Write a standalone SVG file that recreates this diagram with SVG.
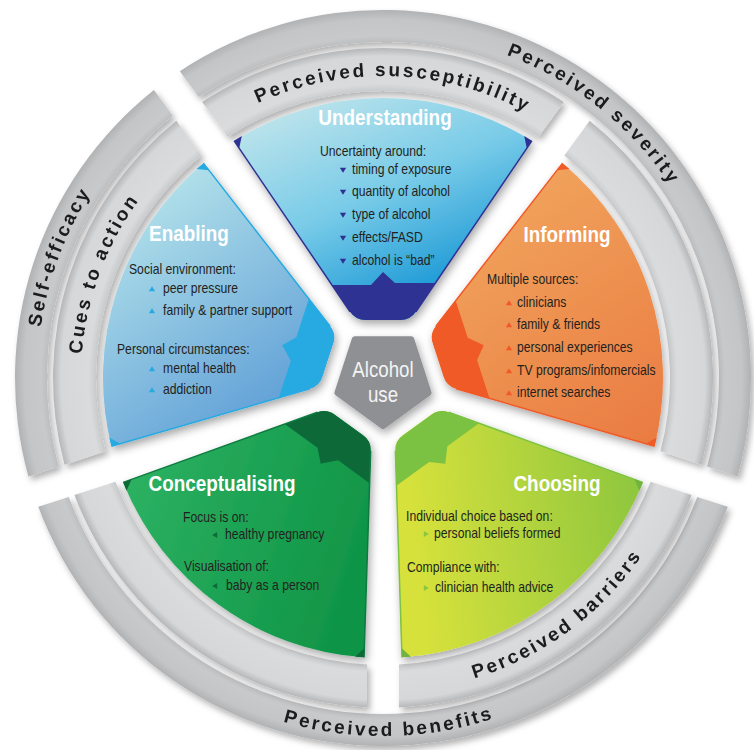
<svg xmlns="http://www.w3.org/2000/svg" width="754" height="750" viewBox="0 0 754 750">
<defs>
<style>
.t{font-family:"Liberation Sans",Arial,sans-serif;font-weight:bold;font-size:22px;fill:#ffffff;text-anchor:middle}
.b{font-family:"Liberation Sans",Arial,sans-serif;font-size:14.5px;fill:#231f20}
.band{font-family:"Liberation Sans",Arial,sans-serif;font-weight:bold;font-size:19px;fill:#1a1a1a;letter-spacing:2.6px}
.c{font-family:"Liberation Sans",Arial,sans-serif;font-size:22px;fill:#f4f4f4;text-anchor:middle}
.edge{fill:none;stroke-width:1.5}
</style>
<filter id="sh" x="-20%" y="-20%" width="140%" height="140%"><feDropShadow dx="2" dy="4" stdDeviation="4" flood-color="#000" flood-opacity="0.35"/></filter>
<filter id="shb" x="-10%" y="-10%" width="120%" height="120%"><feDropShadow dx="3" dy="4" stdDeviation="3" flood-color="#000" flood-opacity="0.3"/></filter>
<radialGradient id="gband" gradientUnits="userSpaceOnUse" cx="0" cy="0" r="368">
<stop offset="0.78" stop-color="#c9cacc"/>
<stop offset="0.80" stop-color="#dadbdd"/>
<stop offset="0.875" stop-color="#d6d7d9"/>
<stop offset="0.897" stop-color="#b5b6b8"/>
<stop offset="0.913" stop-color="#bdbec0"/>
<stop offset="0.93" stop-color="#c8c9cb"/>
<stop offset="0.975" stop-color="#c4c5c7"/>
<stop offset="1" stop-color="#b1b2b4"/>
</radialGradient>
<linearGradient id="gU" gradientUnits="userSpaceOnUse" x1="-60" y1="-280" x2="30" y2="-80"><stop offset="0" stop-color="#b8e2eb"/><stop offset="0.5" stop-color="#78cbe8"/><stop offset="1" stop-color="#1e9ad6"/></linearGradient>
<linearGradient id="gI" gradientUnits="userSpaceOnUse" gradientTransform="rotate(-72)" x1="100" y1="-200" x2="280" y2="60"><stop offset="0" stop-color="#f1a65e"/><stop offset="1" stop-color="#ea7b42"/></linearGradient>
<linearGradient id="gC" gradientUnits="userSpaceOnUse" gradientTransform="rotate(-144)" x1="30" y1="150" x2="270" y2="120"><stop offset="0" stop-color="#d6e13b"/><stop offset="1" stop-color="#8ac53f"/></linearGradient>
<linearGradient id="gK" gradientUnits="userSpaceOnUse" gradientTransform="rotate(-216)" x1="-270" y1="120" x2="-20" y2="200"><stop offset="0" stop-color="#2db262"/><stop offset="1" stop-color="#0f9446"/></linearGradient>
<linearGradient id="gE" gradientUnits="userSpaceOnUse" gradientTransform="rotate(-288)" x1="-250" y1="-180" x2="-90" y2="40"><stop offset="0" stop-color="#b3e2ea"/><stop offset="1" stop-color="#5c9cd6"/></linearGradient>
<path id="wedge" d="M-148.84,-237.17 A280,280 0 0 1 148.84,-237.17 L32.92,-66.28 Q27.31,-58 17.31,-58 L-17.31,-58 Q-27.31,-58 -32.92,-66.28 Z"/>
<clipPath id="wclip"><path d="M-148.84,-237.17 A280,280 0 0 1 148.84,-237.17 L32.92,-66.28 Q27.31,-58 17.31,-58 L-17.31,-58 Q-27.31,-58 -32.92,-66.28 Z"/></clipPath>
<path id="acc" d="M-80,-93 L-12,-93 L0,-106 L12,-95 L80,-95 L80,-40 L-80,-40 Z"/>
<path id="edges" d="M-148.84,-237.17 L-32.92,-66.28 M32.92,-66.28 L148.84,-237.17"/>
<path id="corners" d="M148.84,-237.17 L141.22,-241.95 L143.79,-229.72 Z M-148.84,-237.17 L-141.22,-241.95 L-143.79,-229.72 Z"/>
<path id="ring-in" d="M-180.81,-276.06 A330,330 0 0 1 180.81,-276.06 L155.49,-241.23 A287,287 0 0 0 -155.49,-241.23 Z"/>
<path id="ring-out2" d="M-203.16,-306.84 A368,368 0 0 1 354.61,98.38 L324.15,88.49 A336,336 0 0 0 -184.34,-280.93 Z"/>
<path id="ring-out1" d="M-203.16,-306.84 A368,368 0 0 1 203.16,-306.84 L184.34,-280.93 A336,336 0 0 0 -184.34,-280.93 Z"/>
<path id="p-sus" d="M126.9,217.97 A302,302 0 0 1 649.64,236.21"/>
<path id="p-sev" d="M256.74,55.84 A346,346 0 0 1 725.11,429.74"/>
<path id="p-self" d="M116.03,598.09 A346,346 0 0 1 325.91,36.74"/>
<path id="p-cues" d="M150.31,570.49 A302,302 0 0 1 332.63,80.23"/>
<path id="p-ben" d="M76.12,562.37 A358,358 0 0 0 696.11,551.56"/>
<path id="p-bar" d="M256.8,665.53 A314,314 0 0 0 695.1,343.54"/>
<path id="bd" d="M-3.2,-2.2 L3.2,-2.2 L0,2.8 Z"/>
<path id="bu" d="M-3.2,2.2 L3.2,2.2 L0,-2.8 Z"/>
<path id="br" d="M-2.2,-3 L2.8,0 L-2.2,3 Z"/>
<path id="bl" d="M2.2,-3 L-2.8,0 L2.2,3 Z"/>
</defs>
<rect width="754" height="750" fill="#ffffff"/>

<!-- outer and inner ring bands -->
<g id="band-severity" filter="url(#shb)">
<use href="#ring-out2" fill="url(#gband)" transform="translate(383 378)"/>
<text class="band"><textPath href="#p-sev" startOffset="50%" text-anchor="middle">Perceived severity</textPath></text>
</g>
<g id="band-benefits" filter="url(#shb)">
<use href="#ring-out2" fill="url(#gband)" transform="translate(383 378) rotate(144)"/>
<text class="band"><textPath href="#p-ben" startOffset="50%" text-anchor="middle">Perceived benefits</textPath></text>
</g>
<g id="band-self-efficacy" filter="url(#shb)">
<use href="#ring-out1" fill="url(#gband)" transform="translate(383 378) rotate(288)"/>
<text class="band"><textPath href="#p-self" startOffset="50%" text-anchor="middle">Self-efficacy</textPath></text>
</g>
<g id="band-susceptibility" filter="url(#shb)">
<use href="#ring-in" fill="url(#gband)" transform="translate(383 378)"/>
<text class="band"><textPath href="#p-sus" startOffset="50%" text-anchor="middle">Perceived susceptibility</textPath></text>
</g>
<g id="band-inner-right" filter="url(#shb)">
<use href="#ring-in" fill="url(#gband)" transform="translate(383 378) rotate(72)"/>
</g>
<g id="band-barriers" filter="url(#shb)">
<use href="#ring-in" fill="url(#gband)" transform="translate(383 378) rotate(144)"/>
<text class="band"><textPath href="#p-bar" startOffset="50%" text-anchor="middle">Perceived barriers</textPath></text>
</g>
<g id="band-inner-left" filter="url(#shb)">
<use href="#ring-in" fill="url(#gband)" transform="translate(383 378) rotate(216)"/>
</g>
<g id="band-cues" filter="url(#shb)">
<use href="#ring-in" fill="url(#gband)" transform="translate(383 378) rotate(288)"/>
<text class="band"><textPath href="#p-cues" startOffset="50%" text-anchor="middle">Cues to action</textPath></text>
</g>

<!-- Understanding -->
<g id="understanding">
<g filter="url(#sh)"><g transform="translate(383 378)">
<use href="#wedge" fill="url(#gU)"/>
<use href="#acc" fill="#2e3192" clip-path="url(#wclip)"/>
<use href="#edges" class="edge" stroke="#2e3192"/>
<use href="#corners" fill="#2e3192"/>
</g></g>
<text class="t" transform="matrix(0.86 0 0 1 385 125)">Understanding</text>
<text class="b" transform="matrix(0.84 0 0 1 320 156)">Uncertainty around:</text>
<g fill="#2e3192"><use href="#bd" x="343" y="170"/><use href="#bd" x="343" y="192"/><use href="#bd" x="343" y="215"/><use href="#bd" x="343" y="238"/><use href="#bd" x="343" y="261"/></g>
<text class="b" transform="matrix(0.84 0 0 1 352 174)">timing of exposure</text>
<text class="b" transform="matrix(0.84 0 0 1 352 196)">quantity of alcohol</text>
<text class="b" transform="matrix(0.84 0 0 1 352 219)">type of alcohol</text>
<text class="b" transform="matrix(0.84 0 0 1 352 242)">effects/FASD</text>
<text class="b" transform="matrix(0.84 0 0 1 352 265)">alcohol is “bad”</text>
</g>

<!-- Informing -->
<g id="informing">
<g filter="url(#sh)"><g transform="translate(383 378) rotate(72)">
<use href="#wedge" fill="url(#gI)"/>
<use href="#acc" fill="#f05a28" clip-path="url(#wclip)"/>
<use href="#edges" class="edge" stroke="#f05a28"/>
<use href="#corners" fill="#f05a28"/>
</g></g>
<text class="t" transform="matrix(0.86 0 0 1 567 242)">Informing</text>
<text class="b" transform="matrix(0.84 0 0 1 487 284)">Multiple sources:</text>
<g fill="#f05a28"><use href="#bu" x="509" y="303"/><use href="#bu" x="509" y="325"/><use href="#bu" x="509" y="348"/><use href="#bu" x="509" y="371"/><use href="#bu" x="509" y="393"/></g>
<text class="b" transform="matrix(0.84 0 0 1 517 307)">clinicians</text>
<text class="b" transform="matrix(0.84 0 0 1 517 329)">family &amp; friends</text>
<text class="b" transform="matrix(0.84 0 0 1 517 352)">personal experiences</text>
<text class="b" transform="matrix(0.84 0 0 1 517 375)">TV programs/infomercials</text>
<text class="b" transform="matrix(0.84 0 0 1 517 397)">internet searches</text>
</g>

<!-- Choosing -->
<g id="choosing">
<g filter="url(#sh)"><g transform="translate(383 378) rotate(144)">
<use href="#wedge" fill="url(#gC)"/>
<use href="#acc" fill="#7cc242" clip-path="url(#wclip)"/>
<use href="#edges" class="edge" stroke="#7cc242"/>
<use href="#corners" fill="#6fb33e"/>
</g></g>
<text class="t" transform="matrix(0.86 0 0 1 557 491)">Choosing</text>
<text class="b" transform="matrix(0.84 0 0 1 406 521)">Individual choice based on:</text>
<g fill="#8cc63f"><use href="#br" x="426" y="534"/><use href="#br" x="426" y="588"/></g>
<text class="b" transform="matrix(0.84 0 0 1 434 538)">personal beliefs formed</text>
<text class="b" transform="matrix(0.84 0 0 1 407 572)">Compliance with:</text>
<text class="b" transform="matrix(0.84 0 0 1 435 592)">clinician health advice</text>
</g>

<!-- Conceptualising -->
<g id="conceptualising">
<g filter="url(#sh)"><g transform="translate(383 378) rotate(216)">
<use href="#wedge" fill="url(#gK)"/>
<use href="#acc" fill="#0e6b39" clip-path="url(#wclip)"/>
<use href="#edges" class="edge" stroke="#0e7a40"/>
<use href="#corners" fill="#0e6b39"/>
</g></g>
<text class="t" transform="matrix(0.86 0 0 1 222 491)">Conceptualising</text>
<text class="b" transform="matrix(0.84 0 0 1 183 522)">Focus is on:</text>
<g fill="#0e6b39"><use href="#bl" x="215" y="535"/><use href="#bl" x="215" y="586"/></g>
<text class="b" transform="matrix(0.84 0 0 1 225 539)">healthy pregnancy</text>
<text class="b" transform="matrix(0.84 0 0 1 184 571)">Visualisation of:</text>
<text class="b" transform="matrix(0.84 0 0 1 226 590)">baby as a person</text>
</g>

<!-- Enabling -->
<g id="enabling">
<g filter="url(#sh)"><g transform="translate(383 378) rotate(288)">
<use href="#wedge" fill="url(#gE)"/>
<use href="#acc" fill="#27aae1" clip-path="url(#wclip)"/>
<use href="#edges" class="edge" stroke="#27aae1"/>
<use href="#corners" fill="#27aae1"/>
</g></g>
<text class="t" transform="matrix(0.86 0 0 1 189 241)">Enabling</text>
<text class="b" transform="matrix(0.84 0 0 1 129 274)">Social environment:</text>
<g fill="#27aae1"><use href="#bu" x="152" y="289"/><use href="#bu" x="152" y="311"/><use href="#bu" x="152" y="369"/><use href="#bu" x="152" y="390"/></g>
<text class="b" transform="matrix(0.84 0 0 1 163 293)">peer pressure</text>
<text class="b" transform="matrix(0.84 0 0 1 163 315)">family &amp; partner support</text>
<text class="b" transform="matrix(0.84 0 0 1 117 354)">Personal circumstances:</text>
<text class="b" transform="matrix(0.84 0 0 1 163 373)">mental health</text>
<text class="b" transform="matrix(0.84 0 0 1 163 394)">addiction</text>
</g>

<!-- centre -->
<g id="alcohol-use">
<polygon points="383,426 337.35,392.83 354.79,339.17 411.21,339.17 428.65,392.83" fill="#8f9093" stroke="#8f9093" stroke-width="6" stroke-linejoin="round" filter="url(#sh)"/>
<text class="c" transform="matrix(0.85 0 0 1 383 377)">Alcohol</text>
<text class="c" transform="matrix(0.85 0 0 1 383 402)">use</text>
</g>
</svg>
